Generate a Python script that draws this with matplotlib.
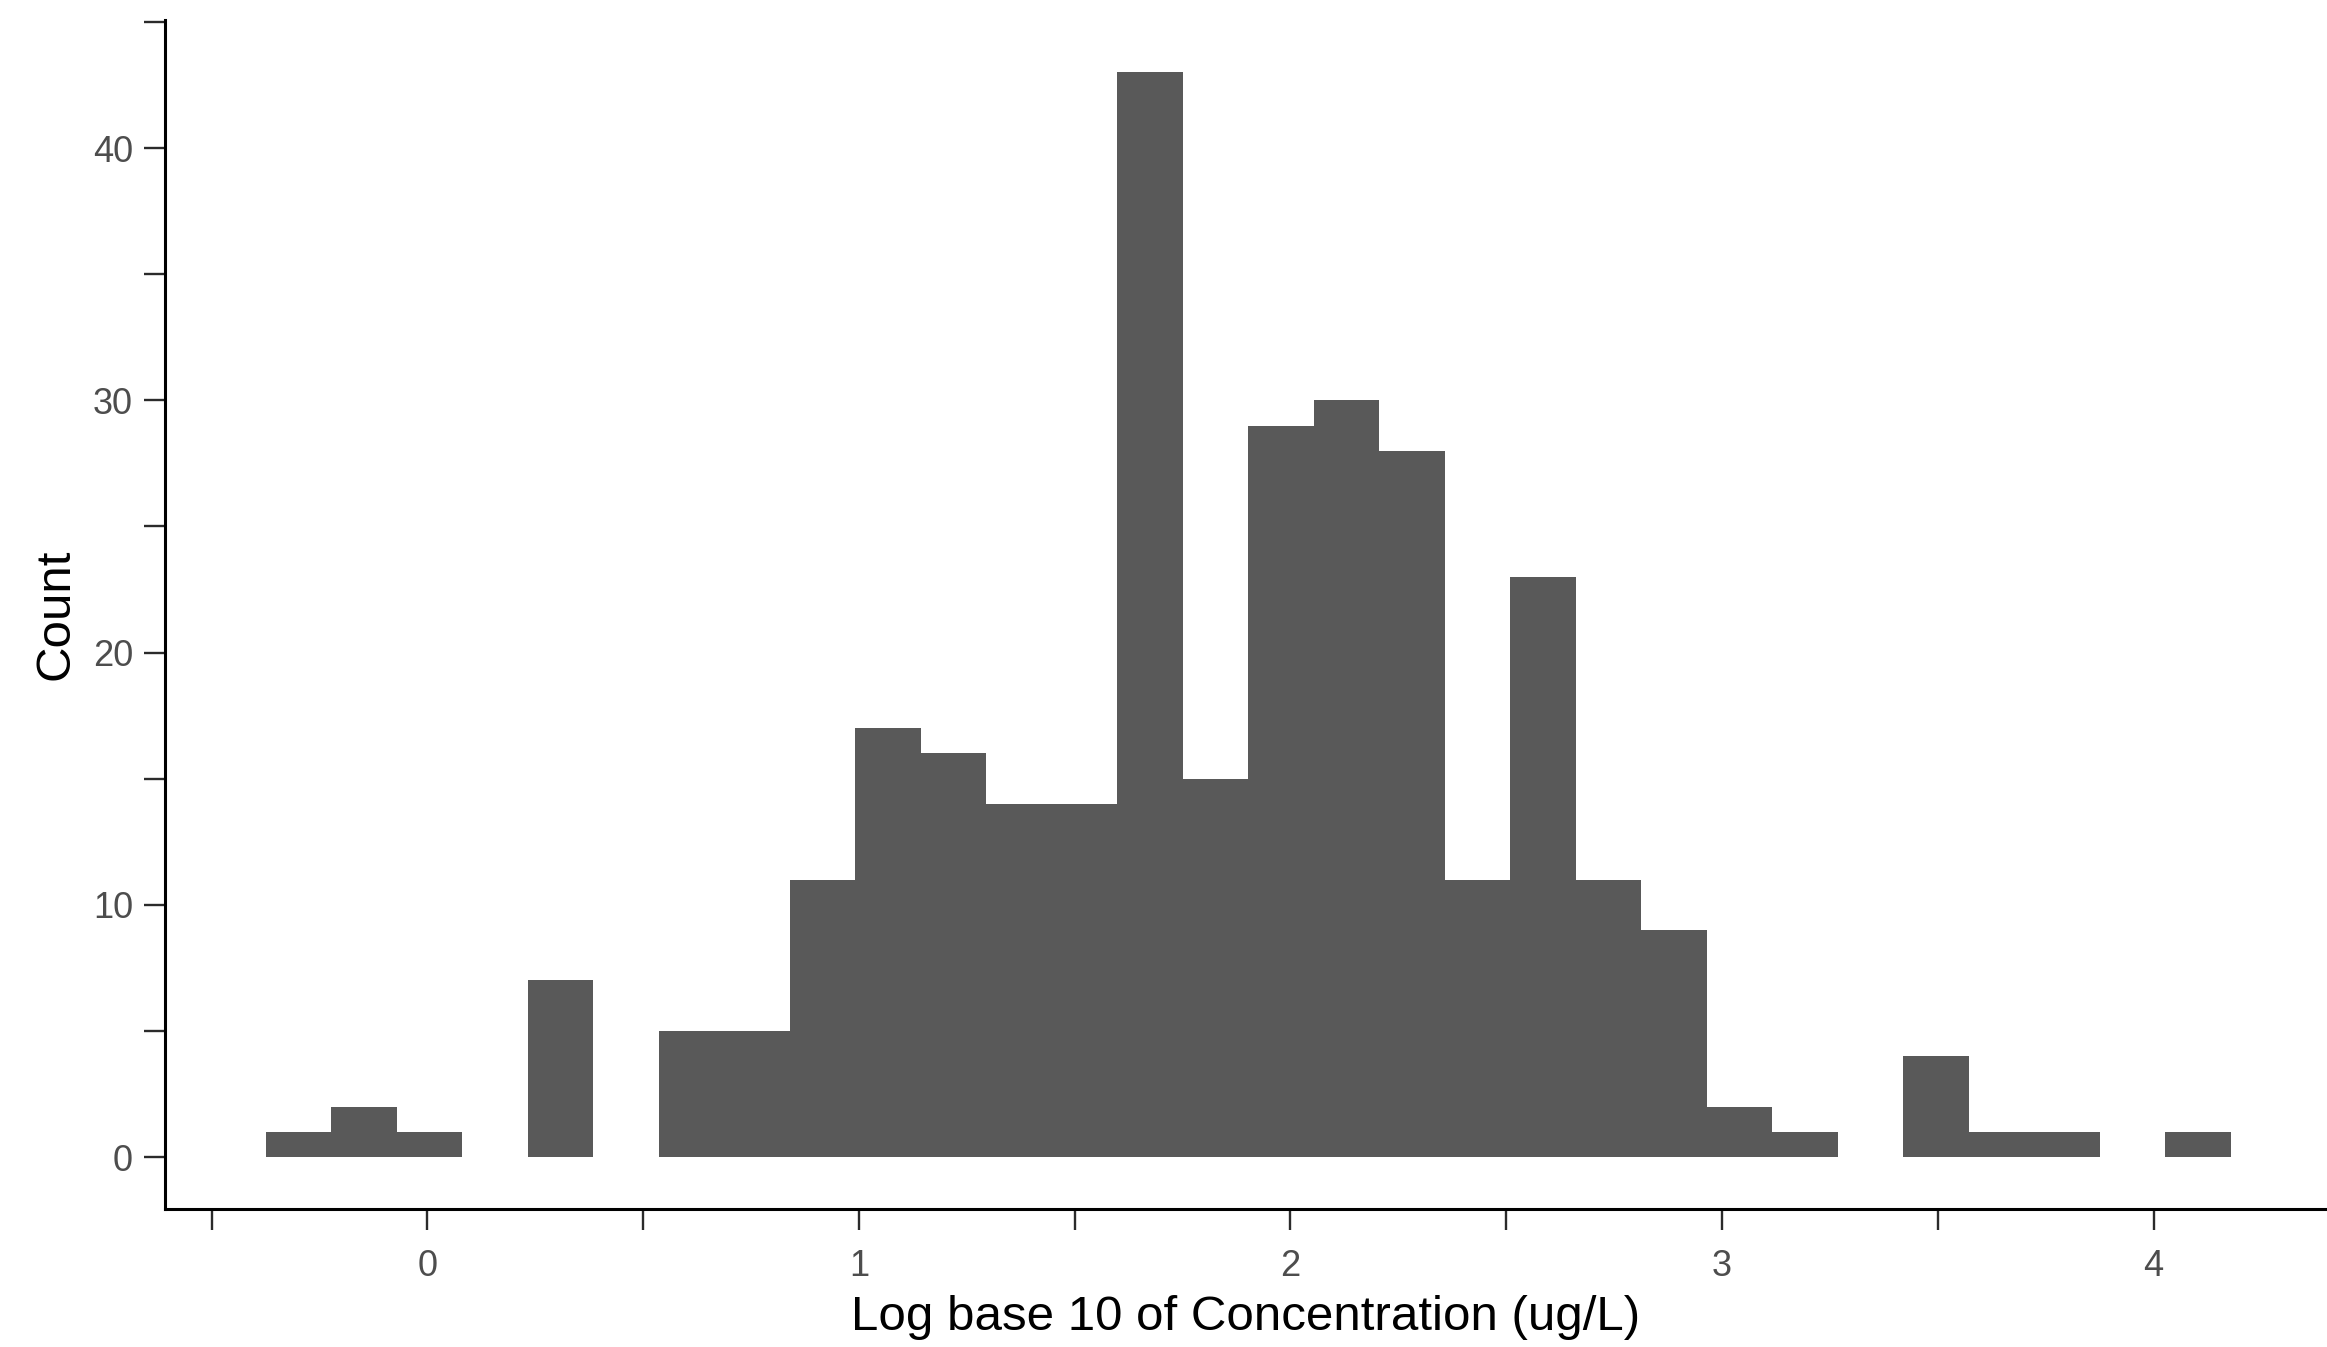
import numpy as np
import matplotlib
matplotlib.use("Agg")
import matplotlib.pyplot as plt

# Histogram of log10 concentrations: 30 equal-width bins
bin_start = -0.375
bin_width = 0.1518
counts = [1, 2, 1, 0, 7, 0, 5, 5, 11, 17,
          16, 14, 14, 43, 15, 29, 30, 28, 11, 23,
          11, 9, 2, 1, 0, 4, 1, 1, 0, 1]

x_ticks = [-0.5, 0, 0.5, 1, 1.5, 2, 2.5, 3, 3.5, 4]
x_tick_labels = ["", "0", "", "1", "", "2", "", "3", "", "4"]
y_ticks = [0, 5, 10, 15, 20, 25, 30, 35, 40, 45]
y_tick_labels = ["0", "", "10", "", "20", "", "30", "", "40", ""]

x_title = "Log base 10 of Concentration (ug/L)"
y_title = "Count"

plt.rcParams["font.family"] = ["Liberation Sans", "DejaVu Sans"]

edges = bin_start + bin_width * np.arange(len(counts) + 1)
centers = (edges[:-1] + edges[1:]) / 2

fig = plt.figure(figsize=(23.27, 13.47), dpi=100)
ax = fig.add_axes([0.0709, 0.10245, 0.9291, 0.8827])

ax.hist(centers, bins=edges, weights=counts, color="#595959",
        edgecolor="none", linewidth=0)

ax.set_xlim(-0.608, 4.402)
ax.set_ylim(-2.06, 45.08)

ax.set_xticks(x_ticks)
ax.set_xticklabels(x_tick_labels)
ax.set_yticks(y_ticks)
ax.set_yticklabels(y_tick_labels)

for side in ("top", "right"):
    ax.spines[side].set_visible(False)
for side in ("left", "bottom"):
    ax.spines[side].set_linewidth(2.2)
    ax.spines[side].set_color("black")
    ax.spines[side].set_capstyle("projecting")

ax.tick_params(axis="both", which="major", length=15, width=1.7,
               color="#2b2b2b", labelsize=26, labelcolor="#4d4d4d")
ax.tick_params(axis="x", pad=14)
ax.tick_params(axis="y", pad=8)

ax.set_xlabel(x_title, fontsize=35.5, color="black", labelpad=8)
ax.set_ylabel(y_title, fontsize=35.5, color="black", labelpad=10)

fig.savefig("out.png", dpi=100, facecolor="white")
